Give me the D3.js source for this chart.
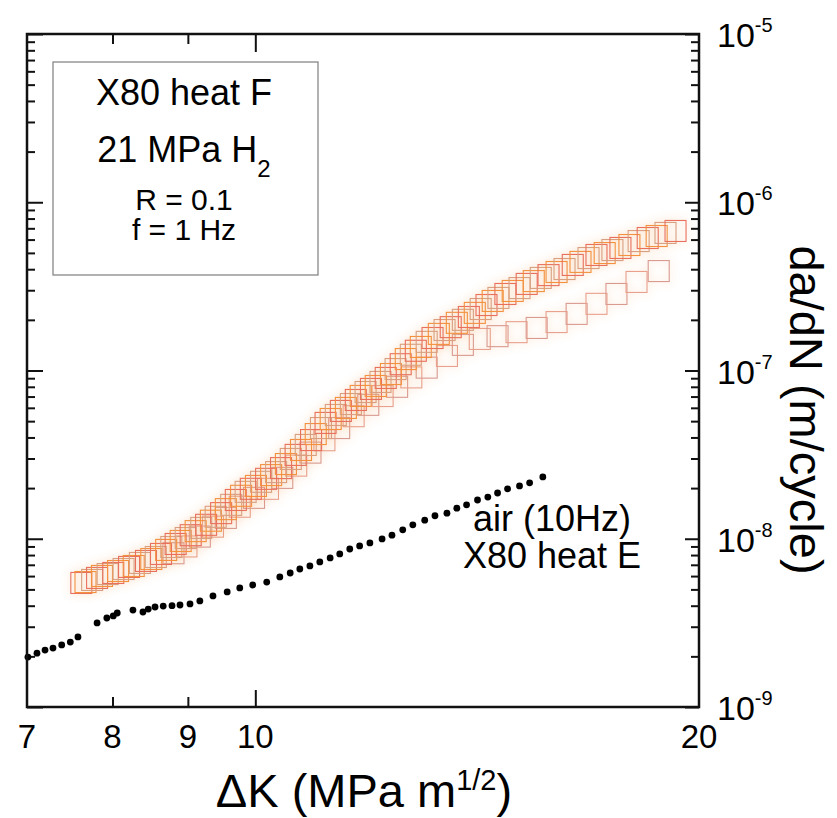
<!DOCTYPE html>
<html>
<head>
<meta charset="utf-8">
<script src="https://cdn.jsdelivr.net/npm/d3@7"></script>
<style>
  body { margin: 0; background: #fff; }
  svg { display: block; font-family: "Liberation Sans", Arial, Helvetica, sans-serif; }
</style>
</head>
<body>
<div id="chart"></div>
<script>
// 21 MPa H2 test, main band  (dK in MPa m^1/2, da/dN in m/cycle)
var h2K = [7.62, 7.67, 7.75, 7.81, 7.87, 7.94, 8.01, 8.07, 8.14, 8.21, 8.27, 8.35, 8.43, 8.50, 8.56,
  8.63, 8.70, 8.77, 8.83, 8.90, 8.97, 9.04, 9.11, 9.19, 9.26, 9.33, 9.40, 9.48, 9.55, 9.63, 9.70,
  9.78, 9.85, 9.93, 10.01, 10.09, 10.17, 10.25, 10.33, 10.41, 10.49, 10.57, 10.65, 10.74, 10.82,
  10.91, 10.99, 11.08, 11.16, 11.25, 11.34, 11.43, 11.52, 11.61, 11.70, 11.79, 11.88, 11.98, 12.07,
  12.16, 12.26, 12.36, 12.45, 12.55, 12.65, 12.75, 12.85, 12.95, 13.07, 13.19, 13.32, 13.44, 13.57,
  13.70, 13.83, 13.96, 14.09, 14.22, 14.35, 14.49, 14.62, 14.78, 14.95, 15.11, 15.28, 15.45, 15.62,
  15.81, 16.01, 16.21, 16.42, 16.62, 16.83, 17.04, 17.26, 17.47, 17.69, 17.94, 18.20, 18.46, 18.72,
  18.98, 19.28];
var h2Rate = [5.46e-9, 5.53e-9, 5.69e-9, 5.85e-9, 6.01e-9, 6.17e-9, 6.26e-9, 6.43e-9, 6.61e-9,
  6.80e-9, 6.89e-9, 7.18e-9, 7.38e-9, 7.58e-9, 7.79e-9, 8.12e-9, 8.58e-9, 8.93e-9, 9.31e-9, 9.70e-9,
  1.01e-8, 1.05e-8, 1.11e-8, 1.16e-8, 1.21e-8, 1.28e-8, 1.35e-8, 1.42e-8, 1.50e-8, 1.59e-8, 1.70e-8,
  1.80e-8, 1.90e-8, 1.98e-8, 2.06e-8, 2.18e-8, 2.27e-8, 2.39e-8, 2.49e-8, 2.63e-8, 2.78e-8, 2.98e-8,
  3.15e-8, 3.37e-8, 3.61e-8, 3.86e-8, 4.19e-8, 4.55e-8, 4.88e-8, 5.15e-8, 5.44e-8, 5.75e-8, 5.99e-8,
  6.32e-8, 6.68e-8, 7.06e-8, 7.45e-8, 7.77e-8, 8.09e-8, 8.55e-8, 9.03e-8, 9.53e-8, 1.02e-7, 1.09e-7,
  1.17e-7, 1.24e-7, 1.31e-7, 1.38e-7, 1.48e-7, 1.56e-7, 1.65e-7, 1.74e-7, 1.81e-7, 1.92e-7, 2.00e-7,
  2.08e-7, 2.20e-7, 2.32e-7, 2.45e-7, 2.59e-7, 2.70e-7, 2.85e-7, 2.97e-7, 3.09e-7, 3.27e-7, 3.40e-7,
  3.55e-7, 3.69e-7, 3.85e-7, 4.01e-7, 4.24e-7, 4.42e-7, 4.66e-7, 4.86e-7, 4.99e-7, 5.20e-7, 5.35e-7,
  5.57e-7, 5.88e-7, 6.13e-7, 6.30e-7, 6.57e-7, 6.75e-7];

// second H2 run: overlaps the band, then the lower branch at high dK
var h2bK = [8.80, 8.98, 9.17, 9.36, 9.55, 9.76, 9.98, 10.20, 10.43, 10.66, 10.90, 11.14, 11.40, 11.66,
  11.93, 12.20, 12.48, 12.76, 13.07, 13.49, 13.83, 14.20, 14.60, 15.04, 15.52, 16.01, 16.52, 17.04,
  17.58, 18.14, 18.78];
var h2bRate = [8.2e-9, 9.0e-9, 1.03e-8, 1.18e-8, 1.33e-8, 1.55e-8, 1.75e-8, 1.98e-8, 2.30e-8, 2.72e-8,
  3.25e-8, 3.85e-8, 4.55e-8, 5.35e-8, 6.25e-8, 7.05e-8, 8.00e-8, 9.10e-8, 1.04e-7, 1.22e-7, 1.42e-7,
  1.54e-7, 1.60e-7, 1.69e-7, 1.79e-7, 1.94e-7, 2.17e-7, 2.49e-7, 2.85e-7, 3.36e-7, 3.90e-7];

// air (10Hz), X80 heat E
var airK = [7.01, 7.11, 7.20, 7.29, 7.39, 7.49, 7.58, 7.81, 7.93, 8.01, 8.06, 8.26, 8.39, 8.46, 8.55,
  8.66, 8.78, 8.89, 9.03, 9.17, 9.36, 9.57, 9.76, 9.96, 10.18, 10.39, 10.56, 10.72, 10.89, 11.06,
  11.24, 11.41, 11.59, 11.77, 11.96, 12.19, 12.38, 12.59, 12.79, 13.03, 13.24, 13.49, 13.70, 13.91,
  14.15, 14.38, 14.60, 14.83, 15.11, 15.35, 15.67];
var airRate = [1.98e-9, 2.09e-9, 2.18e-9, 2.24e-9, 2.34e-9, 2.43e-9, 2.61e-9, 3.16e-9, 3.38e-9, 3.48e-9,
  3.62e-9, 3.77e-9, 3.67e-9, 3.82e-9, 3.93e-9, 3.98e-9, 4.00e-9, 4.04e-9, 4.10e-9, 4.27e-9, 4.57e-9,
  4.83e-9, 5.10e-9, 5.31e-9, 5.53e-9, 5.93e-9, 6.26e-9, 6.61e-9, 6.89e-9, 7.28e-9, 7.69e-9, 8.12e-9,
  8.69e-9, 9.06e-9, 9.44e-9, 9.97e-9, 1.05e-8, 1.13e-8, 1.21e-8, 1.29e-8, 1.37e-8, 1.42e-8, 1.52e-8,
  1.59e-8, 1.70e-8, 1.77e-8, 1.87e-8, 1.98e-8, 2.06e-8, 2.15e-8, 2.33e-8];

// axis ticks / labels
var xTickLabels = [7, 8, 9, 10, 20];
var xMinorTicks = [8, 9];
var xMajorTicks = [10];
var yDecades = [-9, -8, -7, -6, -5];

var infoLines = ["X80 heat F", "21 MPa H", "R = 0.1", "f = 1 Hz"];
var airLines = ["air (10Hz)", "X80 heat E"];

var margin = {top: 34, right: 138, bottom: 111, left: 27},
    width = 837 - margin.left - margin.right,
    height = 818 - margin.top - margin.bottom;

var svg = d3.select("#chart").append("svg")
    .attr("width", 837)
    .attr("height", 818);

// soft halo like the scanned original
var defs = svg.append("defs");
defs.append("filter").attr("id", "halo")
  .attr("x", "-20%").attr("y", "-20%").attr("width", "140%").attr("height", "140%")
  .append("feGaussianBlur").attr("stdDeviation", 5);

var g = svg.append("g")
    .attr("transform", "translate(" + margin.left + "," + margin.top + ")");

var x = d3.scaleLog().domain([7, 20]).range([0, width]);
var y = d3.scaleLog().domain([1e-9, 1e-5]).range([height, 0]);

var yMajor = yDecades.map(function(e) { return Math.pow(10, e); });
var yMinor = y.ticks().filter(function(v) {
  return Math.abs(Math.log10(v) - Math.round(Math.log10(v))) > 1e-6;
});

function styleAxis(sel) {
  sel.select(".domain").remove();
  sel.selectAll("line").attr("stroke", "#111").attr("stroke-width", 2);
}

// y ticks, both sides, pointing in
g.append("g").call(d3.axisLeft(y).tickValues(yMinor).tickSize(-8).tickFormat("")).call(styleAxis);
g.append("g").call(d3.axisLeft(y).tickValues(yMajor).tickSize(-16).tickFormat("")).call(styleAxis);
g.append("g").attr("transform", "translate(" + width + ",0)")
  .call(d3.axisRight(y).tickValues(yMinor).tickSize(-8).tickFormat("")).call(styleAxis);
g.append("g").attr("transform", "translate(" + width + ",0)")
  .call(d3.axisRight(y).tickValues(yMajor).tickSize(-14).tickFormat("")).call(styleAxis);

// x ticks, top and bottom
g.append("g").attr("transform", "translate(0," + height + ")")
  .call(d3.axisBottom(x).tickValues(xMinorTicks).tickSize(-10).tickFormat("")).call(styleAxis);
g.append("g").attr("transform", "translate(0," + height + ")")
  .call(d3.axisBottom(x).tickValues(xMajorTicks).tickSize(-17).tickFormat("")).call(styleAxis);
g.append("g").call(d3.axisTop(x).tickValues(xMinorTicks).tickSize(-10).tickFormat("")).call(styleAxis);
g.append("g").call(d3.axisTop(x).tickValues(xMajorTicks).tickSize(-18).tickFormat("")).call(styleAxis);

// x tick labels
g.selectAll(".xlab").data(xTickLabels).enter().append("text")
  .attr("class", "xlab")
  .attr("x", function(d) { return x(d); })
  .attr("y", height + 41)
  .attr("text-anchor", "middle")
  .style("font-size", "33px")
  .text(function(d) { return d; });

// y tick labels (10^n), right side
var ylab = g.selectAll(".ylab").data(yDecades).enter().append("text")
  .attr("class", "ylab")
  .attr("x", width + 18)
  .attr("y", function(d) { return y(Math.pow(10, d)) + 13; })
  .style("font-size", "34px");
ylab.append("tspan").text("10");
ylab.append("tspan").attr("dy", -15).style("font-size", "20px").text(function(d) { return String(d); });

// axis titles
var xt = svg.append("text")
  .attr("x", 364).attr("y", 807)
  .attr("text-anchor", "middle")
  .style("font-size", "47px");
xt.append("tspan").text("\u0394K (MPa m");
xt.append("tspan").attr("dy", -17).style("font-size", "29px").text("1/2");
xt.append("tspan").attr("dy", 17).text(")");

svg.append("text")
  .attr("transform", "translate(790,410) rotate(90)")
  .attr("text-anchor", "middle")
  .style("font-size", "47px")
  .text("da/dN (m/cycle)");

// H2 squares
var sq = 21;
function squares(cls, ks, rates, colour) {
  var layer = g.append("g");
  layer.append("g").attr("filter", "url(#halo)").attr("opacity", 0.22)
    .selectAll("rect").data(ks).enter().append("rect")
    .attr("x", function(d) { return x(d) - sq / 2; })
    .attr("y", function(d, i) { return y(rates[i]) - sq / 2; })
    .attr("width", sq).attr("height", sq)
    .attr("fill", "none").attr("stroke", "#f6a15a").attr("stroke-width", 3);
  layer.selectAll("." + cls).data(ks).enter().append("rect")
    .attr("class", cls)
    .attr("x", function(d) { return x(d) - sq / 2; })
    .attr("y", function(d, i) { return y(rates[i]) - sq / 2; })
    .attr("width", sq).attr("height", sq)
    .attr("fill", "none")
    .attr("stroke", colour)
    .attr("stroke-width", 1.1);
}
squares("h2b", h2bK, h2bRate, function(d, i) { return i % 2 ? "#e9a08c" : "#d99a90"; });
squares("h2", h2K, h2Rate, function(d, i) { return i % 3 === 0 ? "#e8705c" : (i % 3 === 1 ? "#f3913f" : "#d8a080"); });

// air dots
g.selectAll(".air").data(airK).enter().append("circle")
  .attr("class", "air")
  .attr("cx", function(d) { return x(d); })
  .attr("cy", function(d, i) { return y(airRate[i]); })
  .attr("r", 3.4)
  .attr("fill", "#000");

// frame
g.append("rect")
  .attr("width", width).attr("height", height)
  .attr("fill", "none").attr("stroke", "#111").attr("stroke-width", 2.5);

// inset info box
svg.append("rect")
  .attr("x", 53).attr("y", 62).attr("width", 265).attr("height", 213)
  .attr("fill", "none").attr("stroke", "#888").attr("stroke-width", 1.3);

var info = [
  {t: infoLines[0], y: 105, s: 36},
  {t: infoLines[1], y: 162, s: 36},
  {t: infoLines[2], y: 210, s: 30},
  {t: infoLines[3], y: 240, s: 30}
];
var it = svg.selectAll(".info").data(info).enter().append("text")
  .attr("class", "info")
  .attr("x", 184)
  .attr("y", function(d) { return d.y; })
  .attr("text-anchor", "middle")
  .style("font-size", function(d) { return d.s + "px"; });
it.append("tspan").text(function(d) { return d.t; });
it.filter(function(d, i) { return i === 1; })
  .append("tspan").attr("dy", 15).style("font-size", "24px").text("2");

svg.selectAll(".airlab").data(airLines).enter().append("text")
  .attr("class", "airlab")
  .attr("x", 552)
  .attr("y", function(d, i) { return 531 + i * 37; })
  .attr("text-anchor", "middle")
  .style("font-size", "36px")
  .text(function(d) { return d; });
</script>
</body>
</html>
